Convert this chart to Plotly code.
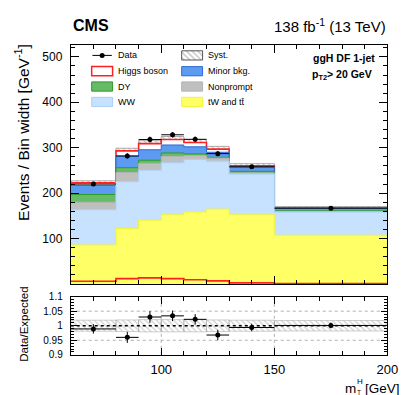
import plotly.graph_objects as go

# ---------------- data ----------------
bin_edges = [60, 80, 90, 100, 110, 120, 130, 150, 200]
tw_tt = [86, 122, 140.5, 152.5, 158.5, 165, 152.5, 107.5]
ww = [77.5, 103.5, 110, 114.5, 115.5, 105.5, 89.5, 51]
nonprompt = [16.5, 20, 15, 14, 8.5, 6.5, 2.5, 1.5]
dy = [17, 10.5, 7, 7.5, 4, 2, 3.5, 1.5]
minor_bkg = [20, 25, 23, 17.5, 15.5, 11, 9.5, 5]
higgs = [6, 12, 13.5, 12, 9.5, 7, 2.5, 1]
data_vals = [220, 282, 318, 328.5, 318.5, 287, 258, 167]
data_err = [3.5, 6, 6.5, 6, 6, 5.5, 3.5, 1.8]
syst_rel = [0.019, 0.02, 0.021, 0.021, 0.021, 0.02, 0.019, 0.018]
ratio_vals = [0.989, 0.960, 1.030, 1.034, 1.022, 0.968, 0.994, 1.001]
ratio_err = [0.016, 0.019, 0.02, 0.018, 0.018, 0.018, 0.013, 0.01]
ratio_ticks = [0.9, 0.95, 1.0, 1.05, 1.1]
ratio_ticktext = ["0.9", "0.95", "1", "1.05", "1.1"]
main_ticks = [100, 200, 300, 400, 500]
x_ticks = [100, 150, 200]

# ---------------- styles ----------------
W, H = 407, 395
FONT = "Liberation Sans, Arial, Helvetica, sans-serif"
C_TT, L_TT = "#ffff66", "#f2f23a"
C_WW, L_WW = "#c6e2ff", "#a9d0f7"
C_NP, L_NP = "#bfbfbf", "#b3b3b3"
C_DY, L_DY = "#66bb66", "#2e9a2e"
C_MIN, L_MIN = "#5d9bf0", "#2c6ad6"
C_H = "#ff2020"

centers = [(a + b) / 2 for a, b in zip(bin_edges[:-1], bin_edges[1:])]
widths = [b - a for a, b in zip(bin_edges[:-1], bin_edges[1:])]
halfw = [w / 2 for w in widths]

layers = [
    ("tW and tt̄", tw_tt, C_TT, L_TT),
    ("WW", ww, C_WW, L_WW),
    ("Nonprompt", nonprompt, C_NP, L_NP),
    ("DY", dy, C_DY, L_DY),
    ("Minor bkg.", minor_bkg, C_MIN, L_MIN),
    ("Higgs boson", higgs, "#ffffff", C_H),
]
cum = []
run = [0.0] * len(centers)
for name, vals, fc, lc in layers:
    run = [r + v for r, v in zip(run, vals)]
    cum.append((name, list(run), fc, lc))
total = cum[-1][1]

fig = go.Figure()

def step(vals):
    return list(vals) + [vals[-1]]

# stacked layers: draw from top-most cumulative down
for name, top, fc, lc in reversed(cum):
    lw = 1.6 if name == "Higgs boson" else 1.0
    fig.add_trace(go.Scatter(
        x=bin_edges, y=step(top), mode="lines", line=dict(shape="hv", color=lc, width=lw),
        fill="tozeroy", fillcolor=fc, showlegend=False, hoverinfo="skip",
        xaxis="x", yaxis="y"))

# unstacked Higgs
fig.add_trace(go.Scatter(
    x=bin_edges, y=step(higgs), mode="lines", line=dict(shape="hv", color=C_H, width=1.6),
    showlegend=False, hoverinfo="skip", xaxis="x", yaxis="y"))

# syst band main
fig.add_trace(go.Bar(
    x=centers, width=widths, base=[t * (1 - s) for t, s in zip(total, syst_rel)],
    y=[2 * t * s for t, s in zip(total, syst_rel)],
    marker=dict(color="rgba(0,0,0,0)", line=dict(color="#777777", width=0.6),
                pattern=dict(shape="\\", fgcolor="#8a8a8a", size=4, solidity=0.3)),
    showlegend=False, hoverinfo="skip", xaxis="x", yaxis="y"))

# data main
fig.add_trace(go.Scatter(
    x=centers, y=data_vals, mode="markers",
    marker=dict(color="black", size=5),
    error_x=dict(type="data", array=halfw, color="black", thickness=1, width=0),
    error_y=dict(type="data", array=data_err, color="black", thickness=1, width=0),
    showlegend=False, hoverinfo="skip", xaxis="x", yaxis="y"))

# ratio syst band
fig.add_trace(go.Bar(
    x=centers, width=widths, base=[1 - s for s in syst_rel], y=[2 * s for s in syst_rel],
    marker=dict(color="rgba(0,0,0,0)", line=dict(color="#a0a0a0", width=0.5),
                pattern=dict(shape="\\", fgcolor="#a0a0a0", size=4, solidity=0.3)),
    showlegend=False, hoverinfo="skip", xaxis="x2", yaxis="y2"))

# ratio data
fig.add_trace(go.Scatter(
    x=centers, y=ratio_vals, mode="markers",
    marker=dict(color="black", size=5),
    error_x=dict(type="data", array=halfw, color="black", thickness=1, width=0),
    error_y=dict(type="data", array=ratio_err, color="black", thickness=1, width=0),
    showlegend=False, hoverinfo="skip", xaxis="x2", yaxis="y2"))

# ---------------- legend (pixel overlay axis) ----------------
col1_x0, col2_x0, sw_w, sw_h = 86, 178.5, 21.5, 9.5
rows = [42.7, 59, 74.8, 90.7]
shapes = []
# Data symbol
fig.add_trace(go.Scatter(
    x=[col1_x0 + sw_w / 2], y=[rows[0]], mode="markers", marker=dict(color="black", size=5),
    error_x=dict(type="data", array=[10], color="black", thickness=1, width=0),
    showlegend=False, hoverinfo="skip", xaxis="x3", yaxis="y3"))
# Syst symbol
fig.add_trace(go.Bar(
    x=[col2_x0 + sw_w / 2], width=[sw_w], base=[rows[0] - sw_h / 2], y=[sw_h],
    marker=dict(color="rgba(0,0,0,0)", line=dict(color="#555555", width=1),
                pattern=dict(shape="\\", fgcolor="#777777", size=4, solidity=0.3)),
    showlegend=False, hoverinfo="skip", xaxis="x3", yaxis="y3"))

legend_boxes = [
    (col1_x0, rows[1], "#ffffff", C_H, 1.5, "Higgs boson"),
    (col1_x0, rows[2], C_DY, L_DY, 1, "DY"),
    (col1_x0, rows[3], C_WW, L_WW, 1, "WW"),
    (col2_x0, rows[1], C_MIN, L_MIN, 1, "Minor bkg."),
    (col2_x0, rows[2], C_NP, L_NP, 1, "Nonprompt"),
    (col2_x0, rows[3], C_TT, L_TT, 1, "tW and tt̄"),
]
for x0, yc, fc, lc, lw, _ in legend_boxes:
    shapes.append(dict(type="rect", xref="x3", yref="y3", x0=x0, x1=x0 + sw_w,
                       y0=yc - sw_h / 2, y1=yc + sw_h / 2, fillcolor=fc,
                       line=dict(color=lc, width=lw), layer="above"))

annotations = []
def txt(text, x, y, size, xanchor="left", yanchor="middle", bold=False, angle=0):
    if bold:
        text = "<b>" + text + "</b>"
    annotations.append(dict(text=text, x=x / W, y=1 - y / H, xref="paper", yref="paper",
                            xanchor=xanchor, yanchor=yanchor, showarrow=False, textangle=angle,
                            font=dict(family=FONT, size=size, color="black")))

txt("Data", 111.5, rows[0], 9)
txt("Syst.", 204, rows[0], 9)
for x0, yc, fc, lc, lw, label in legend_boxes:
    txt(label, (111.5 if x0 == col1_x0 else 204), yc, 9)

txt("CMS", 64.5, 11.5, 16, bold=True)
txt("138 fb<sup>-1</sup> (13 TeV)", 391, 11.5, 15, xanchor="right")
txt("ggH DF 1-jet", 379, 45.5, 10.5, xanchor="right", bold=True)
txt("p<sub>T2</sub>> 20 GeV", 376, 63, 10.5, xanchor="right", bold=True)
txt("Events / Bin width [GeV<sup>-1</sup>]", 15, 122, 15.5, xanchor="center", angle=-90)
txt("Data/Expected", 17, 320, 11.5, xanchor="center", angle=-90)
# x title m_T^H [GeV]
txt("m", 344.5, 386.5, 13.5)
txt("H", 356.5, 379.5, 8)
txt("T", 356.8, 390.5, 6.5)
txt("[GeV]", 365, 386.5, 13.5)

# ratio grid lines
for yv in [0.95, 1.05]:
    shapes.append(dict(type="line", xref="x2", yref="y2", x0=bin_edges[0], x1=bin_edges[-1],
                       y0=yv, y1=yv, line=dict(color="#b0b0b0", width=1, dash="dot"), layer="below"))
for xv in [100, 150]:
    shapes.append(dict(type="line", xref="x2", yref="y2", x0=xv, x1=xv, y0=0.9, y1=1.1,
                       line=dict(color="#b0b0b0", width=1, dash="dot"), layer="below"))
shapes.append(dict(type="line", xref="x2", yref="y2", x0=bin_edges[0], x1=bin_edges[-1],
                   y0=1, y1=1, line=dict(color="black", width=1.6, dash="dot"), layer="above"))

# ---------------- layout ----------------
x_dom = [64.5 / W, 390 / W]
main_dom = [(H - 278.5) / H, (H - 32) / H]
ratio_dom = [(H - 351.5) / H, (H - 291.5) / H]
axis_common = dict(showline=True, linecolor="black", linewidth=1, mirror="ticks", ticks="inside",
                   showgrid=False, zeroline=False, tickcolor="black",
                   tickfont=dict(family=FONT, size=12, color="black"))

fig.update_layout(
    width=W, height=H, autosize=False,
    margin=dict(l=0, r=0, t=0, b=0),
    paper_bgcolor="white", plot_bgcolor="rgba(0,0,0,0)",
    barmode="overlay", showlegend=False,
    font=dict(family=FONT, color="black"),
    xaxis=dict(domain=x_dom, anchor="y", range=[bin_edges[0], bin_edges[-1]],
               tickvals=x_ticks, ticklen=8, showticklabels=False,
               minor=dict(dtick=10, tick0=60, ticklen=4, ticks="inside", tickcolor="black"),
               **axis_common),
    yaxis=dict(domain=main_dom, anchor="x", range=[0, 526], tickvals=main_ticks, ticklen=8,
               ticklabelstandoff=5,
               minor=dict(dtick=20, tick0=0, ticklen=4, ticks="inside", tickcolor="black"),
               **axis_common),
    xaxis2=dict(domain=x_dom, anchor="y2", matches="x", range=[bin_edges[0], bin_edges[-1]],
                tickvals=x_ticks, ticklen=7, ticklabelstandoff=3,
                minor=dict(dtick=10, tick0=60, ticklen=4, ticks="inside", tickcolor="black"),
                **{**axis_common, "tickfont": dict(family=FONT, size=13, color="black")}),
    yaxis2=dict(domain=ratio_dom, anchor="x2", range=[0.9, 1.1], tickvals=ratio_ticks,
                ticktext=ratio_ticktext, ticklen=6, ticklabelstandoff=5,
                minor=dict(dtick=0.01, tick0=0.9, ticklen=3, ticks="inside", tickcolor="black"),
                **{**axis_common, "tickfont": dict(family=FONT, size=10, color="black")}),
    xaxis3=dict(domain=[0, 1], anchor="y3", range=[0, W], visible=False, fixedrange=True),
    yaxis3=dict(domain=[0, 1], anchor="x3", range=[H, 0], visible=False, fixedrange=True),
    shapes=shapes, annotations=annotations,
)

fig.write_html("out.html")
